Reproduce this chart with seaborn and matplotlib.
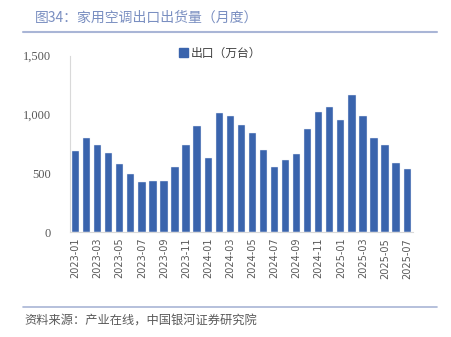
import matplotlib
matplotlib.use("Agg")
import matplotlib.pyplot as plt
import seaborn as sns
import pandas as pd
from matplotlib.patches import Patch
from matplotlib.lines import Line2D

months = [f"{y}-{m:02d}" for y in (2023, 2024, 2025) for m in range(1, 13)][:31]
exports = [693, 803, 739, 671, 582, 492, 427, 438, 433, 552, 739, 905,
           633, 1015, 990, 914, 846, 701, 557, 611, 667, 874, 1019, 1061,
           951, 1163, 987, 798, 739, 591, 535]
yticks = [0, 500, 1000, 1500]
ytick_labels = ["0", "500", "1,000", "1,500"]
title = "图34：家用空调出口出货量（月度）"
legend_label = "出口（万台）"
source = "资料来源：产业在线，中国银河证券研究院"

sns.set_theme(style="white")
plt.rcParams['font.family'] = ['Noto Sans CJK SC', 'DejaVu Sans']

df = pd.DataFrame({"month": months, "exports": exports})

fig = plt.figure(figsize=(4.51, 3.37), dpi=100)
ax = fig.add_axes([70/451, 1-232.3/337, 342.7/451, 176.6/337])
bar_color = "#3a64ad"
sns.barplot(data=df, x="month", y="exports", color=bar_color, width=0.66,
            saturation=1, ax=ax, edgecolor="#e8edf6", linewidth=0.3)
ax.set_xlim(-0.5, len(months) - 0.5)
ax.set_ylim(0, 1500)
ax.set_yticks(yticks)
ax.set_yticklabels(ytick_labels, family="Liberation Serif", fontsize=9, color="#595959")
ax.set_xticks(range(0, len(months), 2))
ax.set_xticklabels(months[::2], rotation=90, fontsize=7, color="#595959",
                   family="DejaVu Sans")
ax.tick_params(axis="both", length=0)
ax.tick_params(axis="y", pad=14)
ax.tick_params(axis="x", pad=4)
ax.set_xlabel("")
ax.set_ylabel("")
for s in ["top", "right"]:
    ax.spines[s].set_visible(False)
for s in ["left", "bottom"]:
    ax.spines[s].set_color("#d9d9d9")
    ax.spines[s].set_linewidth(0.8)

handles = [Patch(facecolor=bar_color, edgecolor=bar_color)]
fig.legend(handles, [legend_label], loc="center", bbox_to_anchor=(220/451, 1-53/337),
           frameon=False, fontsize=8.5, handlelength=0.8, handleheight=0.8,
           handletextpad=0.2, labelcolor="#404040")

fig.text(35/451, 1-18/337, title, fontsize=10, color="#7a8fc1", va="center", ha="left")
fig.add_artist(Line2D([23/451, 437/451], [1-32.3/337]*2, color="#a9b5d6", lw=1.5))
fig.add_artist(Line2D([23/451, 437/451], [1-307.3/337]*2, color="#a9b5d6", lw=1.2))
fig.text(24/451, 1-321/337, source, fontsize=8.8, color="#595959", va="center",
         ha="left", style="italic")

fig.savefig("out.png", dpi=100)
